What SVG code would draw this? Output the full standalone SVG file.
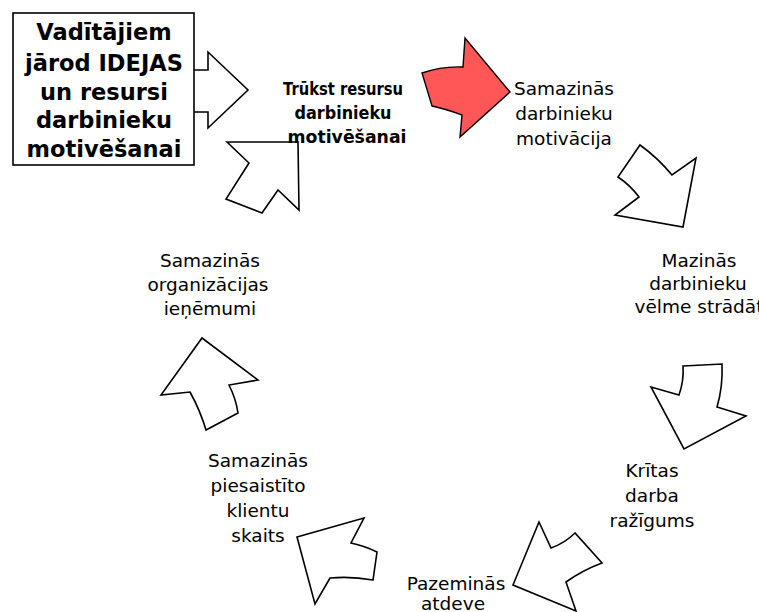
<svg xmlns="http://www.w3.org/2000/svg" width="759" height="612" viewBox="0 0 759 612">
<style>
.a{fill:#fff;stroke:#000;stroke-width:1.6;stroke-linejoin:miter}
.r{fill:#ff5757;stroke:#000;stroke-width:1.4}
.t{font-family:"DejaVu Sans","Liberation Sans",sans-serif;font-size:18.5px;fill:#000;text-anchor:middle}
.b{font-family:"DejaVu Sans","Liberation Sans",sans-serif;font-weight:bold;font-size:22.5px;fill:#000;text-anchor:middle}
.s{font-family:"DejaVu Sans","Liberation Sans",sans-serif;font-weight:bold;font-size:18.5px;fill:#000;text-anchor:middle}
</style>
<rect width="759" height="612" fill="#fff"/>
<g id="connectors">
<path class="a" d="M194,70 L208,70 L208,52 L248,90 L208,128 L208,112 L194,112"/>
<path class="r" d="M422,73 Q442,66 463,67 L465,38 L510,92 L460,137 L462,115 Q446,109 432,106 Z"/>
<path class="a" d="M640,145 Q658,158 672,175 L696,158 L683,227 L615,215 L639,197 Q630,185 618,177 Z"/>
<path class="a" d="M683,366 L722,364 Q723,387 717,407 L746,416 L684,449 L651,387 L679,395 Q684,381 683,366 Z"/>
<path class="a" d="M539,522 L551,548 Q565,543 575,533 L602,563 Q583,570 566,582 L576,611 L513,585 Z"/>
<path class="a" d="M297,537 L364,518 L351,543 Q365,546 377,552 L373,580 Q351,576 330,578 L315,604 Z"/>
<path class="a" d="M202,338 L258,380 L229,385 Q236,399 238,413 L206,430 Q200,410 190,392 L161,395 Z"/>
<path class="a" d="M298,142 L227,142 L249,163 L226,199 L262,213 L278,190 L299,210 Z"/>
</g>
<g id="box">
<rect x="13" y="13" width="181" height="152" fill="#fff" stroke="#000" stroke-width="1.6"/>
<text class="b" x="104" y="40">Vadītājiem</text>
<text class="b" x="104" y="71">jārod IDEJAS</text>
<text class="b" x="104" y="100">un resursi</text>
<text class="b" x="104" y="128">darbinieku</text>
<text class="b" x="104" y="157">motivēšanai</text>
</g>
<g id="n-trukst">
<text class="s" x="343" y="95" textLength="120" lengthAdjust="spacingAndGlyphs">Trūkst resursu</text>
<text class="s" x="343" y="119" textLength="97" lengthAdjust="spacingAndGlyphs">darbinieku</text>
<text class="s" x="347" y="143" textLength="119" lengthAdjust="spacingAndGlyphs">motivēšanai</text>
</g>
<g id="n-motivacija">
<text class="t" x="564" y="95">Samazinās</text>
<text class="t" x="564" y="120">darbinieku</text>
<text class="t" x="564" y="145">motivācija</text>
</g>
<g id="n-velme">
<text class="t" x="699" y="267">Mazinās</text>
<text class="t" x="698" y="290">darbinieku</text>
<text class="t" x="699" y="313">vēlme strādāt</text>
</g>
<g id="n-razigums">
<text class="t" x="652" y="477">Krītas</text>
<text class="t" x="652" y="502">darba</text>
<text class="t" x="652" y="527">ražīgums</text>
</g>
<g id="n-atdeve">
<text class="t" x="456" y="590">Pazeminās</text>
<text class="t" x="453" y="610">atdeve</text>
</g>
<g id="n-klienti">
<text class="t" x="258" y="467">Samazinās</text>
<text class="t" x="258" y="492">piesaistīto</text>
<text class="t" x="258" y="517">klientu</text>
<text class="t" x="258" y="542">skaits</text>
</g>
<g id="n-ienemumi">
<text class="t" x="210" y="267">Samazinās</text>
<text class="t" x="208" y="291">organizācijas</text>
<text class="t" x="210" y="315">ieņēmumi</text>
</g>
</svg>
